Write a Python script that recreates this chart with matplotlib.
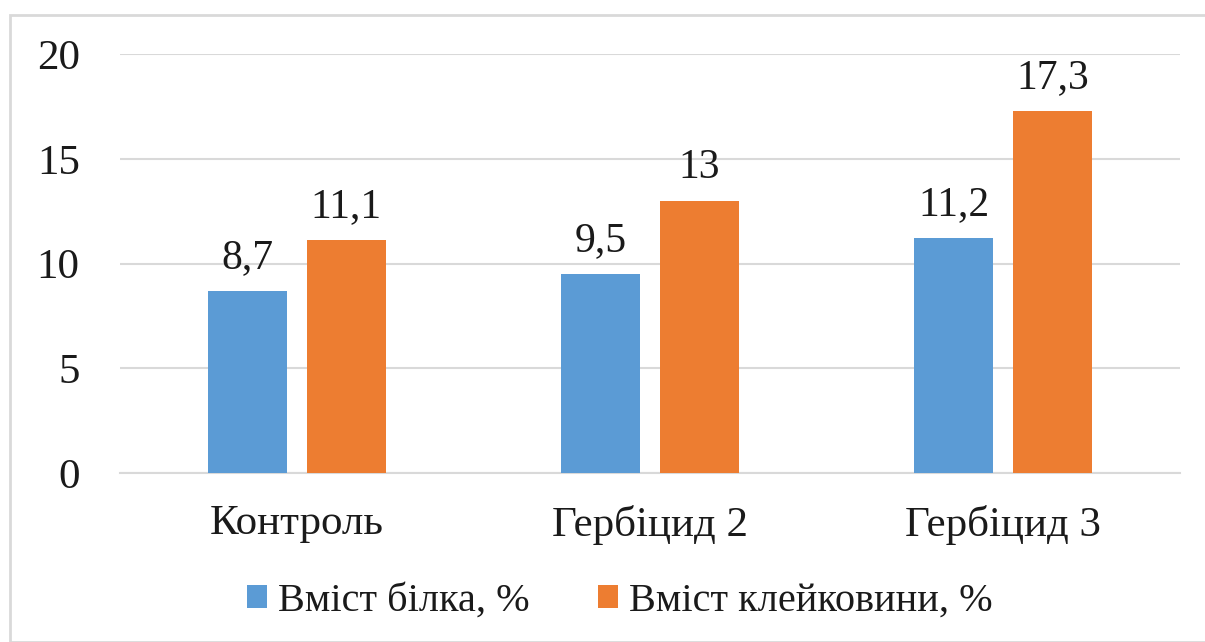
import numpy as np
import matplotlib.pyplot as plt
from matplotlib.patches import Rectangle

categories = ['Контроль', 'Гербіцид 2', 'Гербіцид 3']
protein = [8.7, 9.5, 11.2]
gluten = [11.1, 13, 17.3]
series_names = ['Вміст білка, %', 'Вміст клейковини, %']
yticks = [0, 5, 10, 15, 20]

plt.rcParams['font.family'] = ['Liberation Serif', 'DejaVu Serif']

fig = plt.figure(figsize=(12.05, 6.42), dpi=100)
ax = fig.add_axes([120 / 1205, 1 - 473 / 642, 1060 / 1205, (473 - 54) / 642])

x = np.arange(len(categories))
w = 0.224
b1 = ax.bar(x - 0.14, protein, w, color='#5b9bd5', label=series_names[0], zorder=3)
b2 = ax.bar(x + 0.14, gluten, w, color='#ed7d31', label=series_names[1], zorder=3)

def fmt(v):
    return ('%g' % v).replace('.', ',')

# value labels above the bars
for bars, vals in [(b1, protein), (b2, gluten)]:
    for r, v in zip(bars, vals):
        ax.annotate(fmt(v), (r.get_x() + r.get_width() / 2, v), xytext=(0, 10),
                    textcoords='offset points', ha='center', va='bottom', fontsize=30,
                    color='#1a1a1a')

ax.set_xlim(-0.5, 2.5)
ax.set_ylim(0, 20)
ax.set_yticks(yticks)
ax.set_xticks(x)
ax.set_xticklabels(categories)
ax.tick_params(axis='both', length=0, labelsize=31, colors='#1a1a1a')
ax.tick_params(axis='y', pad=29)
ax.tick_params(axis='x', pad=23)
ax.yaxis.grid(True, color='#d9d9d9', linewidth=1.5, zorder=0)
for s in ['top', 'right', 'left']:
    ax.spines[s].set_visible(False)
ax.spines['bottom'].set_color('#d9d9d9')
ax.spines['bottom'].set_linewidth(1.5)

fig.legend(handles=[b1, b2], labels=series_names, loc='center', bbox_to_anchor=(620 / 1205, 1 - 601 / 642),
           ncol=2, frameon=False, fontsize=29, handlelength=0.5, handleheight=0.5,
           handletextpad=0.27, columnspacing=1.7, labelcolor='#1a1a1a')

# light frame around the chart
fig.patches.append(Rectangle((10 / 1205, 0), 1.2, 1 - 15 / 642, transform=fig.transFigure,
                             fill=False, edgecolor='#d9d9d9', linewidth=2))

fig.savefig('out.png', dpi=100)
